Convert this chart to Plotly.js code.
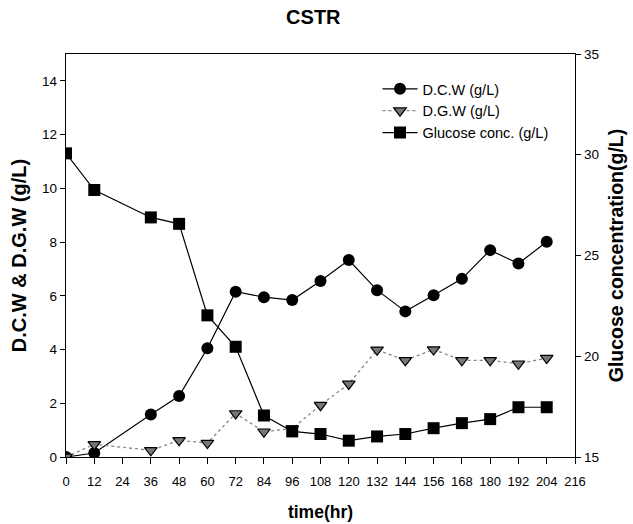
<!DOCTYPE html>
<html>
<head>
<meta charset="utf-8">
<script src="https://cdn.plot.ly/plotly-3.0.1.min.js"></script>
<style>html,body{margin:0;padding:0;background:#fff;}#chart{width:633px;height:524px;}</style>
</head>
<body>
<div id="chart"></div>
<script>
var timeDCW = [0, 12, 36, 48, 60, 72, 84, 96, 108, 120, 132, 144, 156, 168, 180, 192, 204];
var dcw = [0, 0.15, 1.58, 2.27, 4.05, 6.15, 5.95, 5.84, 6.55, 7.33, 6.21, 5.42, 6.02, 6.63, 7.70, 7.20, 8.01];
var timeDGW = [0, 12, 36, 48, 60, 72, 84, 96, 108, 120, 132, 144, 156, 168, 180, 192, 204];
var dgw = [0, 0.47, 0.25, 0.62, 0.52, 1.62, 0.94, 1.06, 1.93, 2.72, 3.99, 3.60, 4.00, 3.60, 3.60, 3.47, 3.68];
var timeGlu = [0, 12, 36, 48, 60, 72, 84, 96, 108, 120, 132, 144, 156, 168, 180, 192, 204];
var glucose = [30.07, 28.25, 26.89, 26.57, 22.03, 20.47, 17.06, 16.27, 16.14, 15.81, 16.02, 16.14, 16.43, 16.68, 16.88, 17.47, 17.47];
var xTicks = [0, 12, 24, 36, 48, 60, 72, 84, 96, 108, 120, 132, 144, 156, 168, 180, 192, 204, 216];

var font = '"Liberation Sans", Arial, sans-serif';
var traces = [
  {x: timeDCW, y: dcw, name: 'D.C.W (g/L)', mode: 'lines+markers', type: 'scatter',
   line: {color: '#000', width: 1.2},
   marker: {symbol: 'circle', size: 12, color: '#000'}},
  {x: timeDGW, y: dgw, name: 'D.G.W (g/L)', mode: 'lines+markers', type: 'scatter',
   line: {color: '#888', width: 1.3, dash: 'dot'},
   marker: {symbol: 'triangle-down', size: 11, color: '#777', line: {color: '#000', width: 1.2}}},
  {x: timeGlu, y: glucose, name: 'Glucose conc. (g/L)', mode: 'lines+markers', type: 'scatter', yaxis: 'y2',
   line: {color: '#000', width: 1.2},
   marker: {symbol: 'square', size: 12, color: '#000'}}
];

var layout = {
  width: 633, height: 524,
  margin: {l: 66, r: 58, t: 54, b: 67},
  paper_bgcolor: '#fff', plot_bgcolor: '#fff',
  font: {family: font, size: 13, color: '#000'},
  title: {text: '<b>CSTR</b>', font: {family: font, size: 20, color: '#000'}, x: 0.495, xanchor: 'center', y: 0.967, yanchor: 'middle'},
  showlegend: true,
  legend: {x: 0.612, y: 0.953, xanchor: 'left', yanchor: 'top', bgcolor: 'rgba(0,0,0,0)', itemwidth: 35,
           font: {family: font, size: 14.5, color: '#000'}, tracegroupgap: 0},
  xaxis: {range: [0, 216], tickmode: 'array', tickvals: xTicks, ticktext: xTicks.map(String),
          showline: true, linecolor: '#000', linewidth: 1.2, mirror: true,
          ticks: 'outside', ticklen: 6, tickcolor: '#000', showgrid: false, zeroline: false,
          ticklabelstandoff: 6, tickangle: 0,
          tickfont: {family: font, size: 13, color: '#000'},
          title: {text: '<b>time(hr)</b>', font: {family: font, size: 17.5, color: '#000'}, standoff: 18}},
  yaxis: {range: [0, 15], tickvals: [0, 2, 4, 6, 8, 10, 12, 14],
          showline: true, linecolor: '#000', linewidth: 1.2,
          ticks: 'outside', ticklen: 5, tickcolor: '#000', showgrid: false, zeroline: false,
          tickfont: {family: font, size: 13.5, color: '#000'},
          title: {text: '<b>D.C.W &amp; D.G.W (g/L)</b>', font: {family: font, size: 20, color: '#000'}, standoff: 10}},
  yaxis2: {range: [15, 35], tickvals: [15, 20, 25, 30, 35], overlaying: 'y', side: 'right',
           showline: true, linecolor: '#000', linewidth: 1.2,
           ticks: 'outside', ticklen: 5, tickcolor: '#000', showgrid: false, zeroline: false,
           tickfont: {family: font, size: 13.5, color: '#000'},
           title: {text: '<b>Glucose concentration(g/L)</b>', font: {family: font, size: 19.5, color: '#000'}, standoff: 11}}
};

Plotly.newPlot('chart', traces, layout, {displayModeBar: false, staticPlot: true});
</script>
</body>
</html>
